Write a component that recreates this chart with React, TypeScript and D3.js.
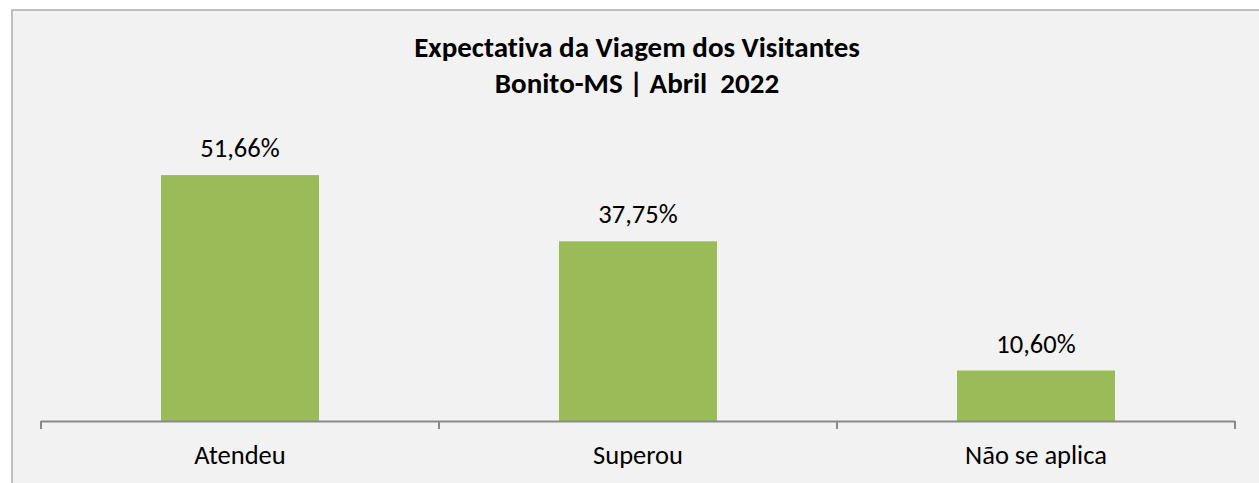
import { useEffect, useRef } from 'react'
import * as d3 from 'd3'

const categories = ['Atendeu', 'Superou', 'Não se aplica']
const values = [51.66, 37.75, 10.6]
const valueLabels = ['51,66%', '37,75%', '10,60%']
const titleLines = ['Expectativa da Viagem dos Visitantes', 'Bonito-MS | Abril  2022']

const W = 1259
const H = 483

function App() {
  const svgRef = useRef<SVGSVGElement | null>(null)

  useEffect(() => {
    if (!svgRef.current) return
    const svg = d3.select(svgRef.current)
    svg.selectAll('*').remove()

    const font = 'Carlito, Calibri, Lato, sans-serif'

    // chart area background + border
    svg.append('rect')
      .attr('x', 12).attr('y', 10)
      .attr('width', W + 20).attr('height', H + 20)
      .attr('fill', '#f2f2f2')
      .attr('stroke', '#bfbfbf')
      .attr('stroke-width', 2)

    // Title
    const title = svg.append('text')
      .attr('text-anchor', 'middle')
      .style('font-family', font)
      .style('font-weight', 'bold')
      .style('font-size', '29px')
      .style('font-variant-ligatures', 'none')
      .style('white-space', 'pre')
      .attr('fill', '#000')
    titleLines.forEach((t, i) => {
      title.append('tspan')
        .attr('x', 637)
        .attr('y', 57 + i * 36)
        .text(t)
    })

    // Plot geometry
    const left = 41
    const right = 1235
    const baseline = 421

    const x = d3.scaleBand<string>()
      .domain(categories)
      .range([left, right])
      .paddingInner(0.603)
      .paddingOuter(0.3015)

    const y = d3.scaleLinear()
      .domain([0, 60])
      .range([baseline, baseline - 285.6])

    // Bars
    svg.selectAll('.bar')
      .data(values)
      .enter().append('rect')
      .attr('class', 'bar')
      .attr('x', (d, i) => x(categories[i])!)
      .attr('width', x.bandwidth())
      .attr('y', d => y(d))
      .attr('height', d => baseline - y(d))
      .attr('fill', '#9bbb59')

    // Value labels
    svg.selectAll('.val')
      .data(values)
      .enter().append('text')
      .attr('class', 'val')
      .attr('x', (d, i) => x(categories[i])! + x.bandwidth() / 2)
      .attr('y', d => y(d) - 18)
      .attr('text-anchor', 'middle')
      .style('font-family', font)
      .style('font-size', '26.5px')
      .attr('fill', '#000')
      .text((d, i) => valueLabels[i])

    // Axis line
    svg.append('line')
      .attr('x1', left).attr('x2', right)
      .attr('y1', baseline + 0.5).attr('y2', baseline + 0.5)
      .attr('stroke', '#898989')
      .attr('stroke-width', 2)

    // Ticks at category boundaries
    const bounds = [left, ...categories.map((c, i) => left + (right - left) * (i + 1) / categories.length)]
    svg.selectAll('.tick')
      .data(bounds)
      .enter().append('line')
      .attr('class', 'tick')
      .attr('x1', d => d).attr('x2', d => d)
      .attr('y1', baseline).attr('y2', baseline + 8)
      .attr('stroke', '#898989')
      .attr('stroke-width', 2)

    // Category labels
    svg.selectAll('.cat')
      .data(categories)
      .enter().append('text')
      .attr('class', 'cat')
      .attr('x', d => x(d)! + x.bandwidth() / 2)
      .attr('y', 464)
      .attr('text-anchor', 'middle')
      .style('font-family', font)
      .style('font-size', '26.5px')
      .attr('fill', '#000')
      .text(d => d)
  }, [])

  return (
    <div style={{ position: 'fixed', left: 0, top: 0, width: W, height: H, background: '#fff' }}>
      <svg ref={svgRef} width={W} height={H} style={{ display: 'block' }}></svg>
    </div>
  )
}

export default App
